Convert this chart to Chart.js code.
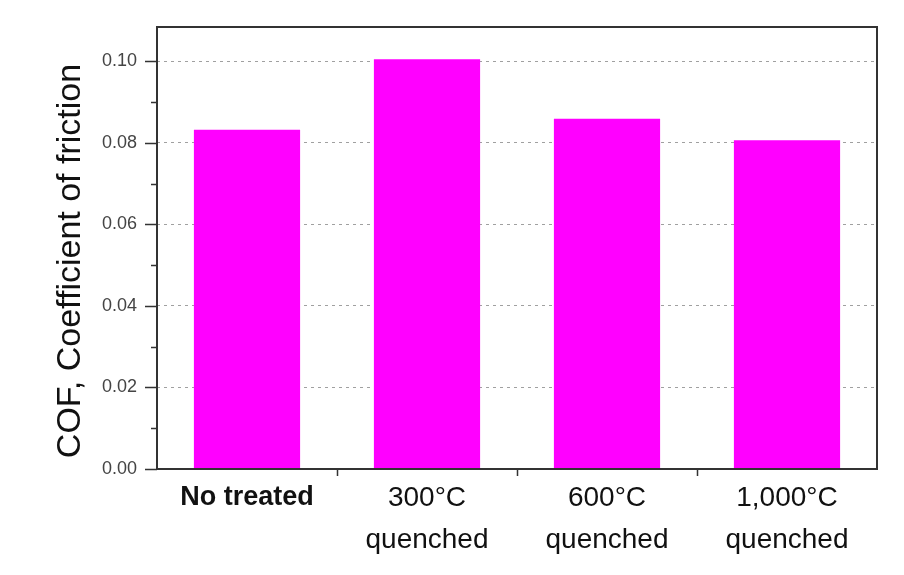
<!DOCTYPE html>
<html lang="en">
<head>
<meta charset="UTF-8">
<title>COF</title>
<script src="https://cdn.jsdelivr.net/npm/chart.js"></script>
<style>
  body { margin: 0; background: #fff; }
  #wrap { width: 904px; height: 575px; }
</style>
</head>
<body>
<div id="wrap"><canvas id="cof" width="904" height="575"></canvas></div>
<script>
// data
const categories = [["No treated"], ["300°C", "quenched"], ["600°C", "quenched"], ["1,000°C", "quenched"]];
const cofValues = [0.0832, 0.1005, 0.0859, 0.0806];
const yTicks = [0, 0.01, 0.02, 0.03, 0.04, 0.05, 0.06, 0.07, 0.08, 0.09, 0.10];
const yMajor = [0, 0.02, 0.04, 0.06, 0.08, 0.10];
const yTitle = 'COF, Coefficient of friction';

const FONT = 'Liberation Sans, Arial, sans-serif';
const isMajor = v => yMajor.some(m => Math.abs(m - v) < 1e-9);

// frame, outward tick marks and the y title
const framePlugin = {
  id: 'frame',
  afterDraw(chart) {
    const { ctx, chartArea: a, scales } = chart;
    ctx.save();
    ctx.strokeStyle = '#333';
    ctx.lineWidth = 2;
    ctx.strokeRect(a.left, a.top, a.right - a.left, a.bottom - a.top);
    ctx.lineWidth = 1.5;
    ctx.beginPath();
    yTicks.forEach(v => {
      const y = Math.round(scales.y.getPixelForValue(v)) + 0.5;
      const len = isMajor(v) ? 12 : 6;
      ctx.moveTo(a.left - len, y);
      ctx.lineTo(a.left, y);
    });
    for (let i = 1; i < categories.length; i++) {
      const x = Math.round((scales.x.getPixelForValue(i - 1) + scales.x.getPixelForValue(i)) / 2) + 0.5;
      ctx.moveTo(x, a.bottom);
      ctx.lineTo(x, a.bottom + 7);
    }
    ctx.stroke();

    // rotated axis title, sits a bit below the plot centre like the original
    ctx.translate(80, 261);
    ctx.rotate(-Math.PI / 2);
    ctx.fillStyle = '#111';
    ctx.font = '34px ' + FONT;
    ctx.textAlign = 'center';
    ctx.textBaseline = 'alphabetic';
    ctx.fillText(yTitle, 0, 0);
    ctx.restore();
  }
};

new Chart(document.getElementById('cof'), {
  type: 'bar',
  data: {
    labels: categories,
    datasets: [{
      data: cofValues,
      backgroundColor: '#ff00ff',
      borderWidth: 0,
      barPercentage: 0.59,
      categoryPercentage: 1
    }]
  },
  options: {
    responsive: false,
    animation: false,
    layout: { padding: { top: 27, right: 27, left: 0, bottom: 0 } },
    plugins: { legend: { display: false }, tooltip: { enabled: false } },
    scales: {
      x: {
        offset: true,
        grid: { display: false, drawTicks: false },
        border: { display: false },
        afterFit: s => { s.height = 106; },
        ticks: {
          padding: 8,
          color: '#111',
          maxRotation: 0,
          font: ctx => ({ family: FONT, size: ctx.index === 0 ? 27 : 28, weight: ctx.index === 0 ? 'bold' : 'normal', lineHeight: 1.5 })
        }
      },
      y: {
        min: 0,
        max: 0.1084,
        afterBuildTicks: s => { s.ticks = yTicks.map(v => ({ value: v })); },
        afterFit: s => { s.width = 157; },
        border: { display: false, dash: [3, 4] },
        grid: {
          drawTicks: true,
          tickLength: 17,
          tickColor: 'rgba(0,0,0,0)',
          color: c => (c.tick && isMajor(c.tick.value) && c.tick.value > 0) ? '#a0a0a0' : 'rgba(0,0,0,0)',
          lineWidth: 1
        },
        ticks: {
          padding: 3,
          color: '#444',
          font: { family: FONT, size: 18 },
          callback: v => isMajor(v) ? v.toFixed(2) : ''
        },
        title: { display: false }
      }
    }
  },
  plugins: [framePlugin]
});
</script>
</body>
</html>
